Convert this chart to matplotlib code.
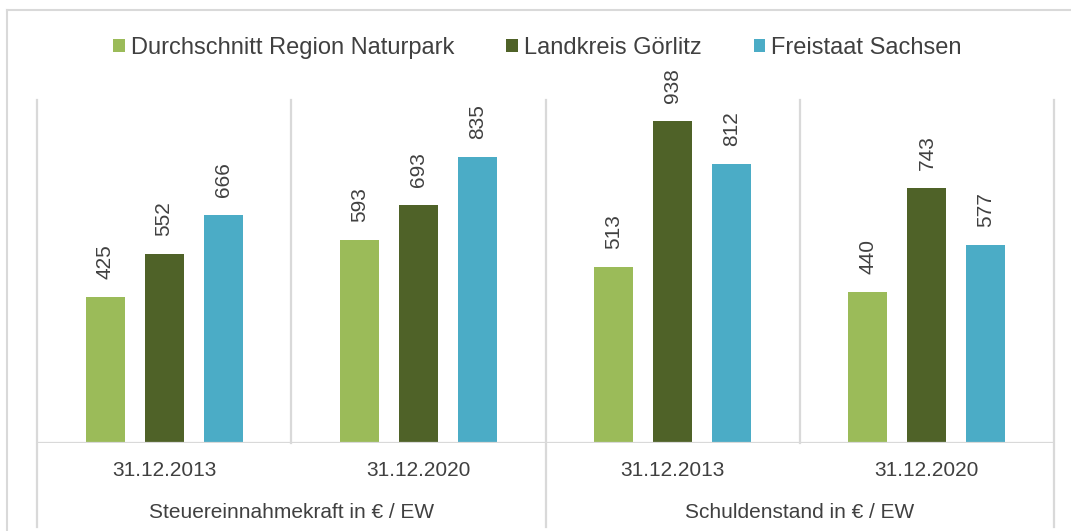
import matplotlib
matplotlib.use("Agg")
import matplotlib.pyplot as plt
from matplotlib.patches import Patch
from matplotlib.lines import Line2D
import numpy as np

plt.rcParams['font.family'] = ['Liberation Sans', 'DejaVu Sans']

series_names = ["Durchschnitt Region Naturpark", "Landkreis Görlitz", "Freistaat Sachsen"]
dates = ["31.12.2013", "31.12.2020", "31.12.2013", "31.12.2020"]
groups = ["Steuereinnahmekraft in € / EW", "Schuldenstand in € / EW"]
region = [425, 593, 513, 440]
landkreis = [552, 693, 938, 743]
sachsen = [666, 835, 812, 577]
colors = ["#9BBB59", "#4F6228", "#4BACC6"]
text_color = "#404040"
grid_color = "#D9D9D9"

W, H = 1071, 531
fig = plt.figure(figsize=(W / 100, H / 100), dpi=100)
ax_left, ax_right, ax_bottom, ax_top = 37, 1054, 443, 100
ax = fig.add_axes([ax_left / W, 1 - ax_bottom / H, (ax_right - ax_left) / W, (ax_bottom - ax_top) / H])

x = np.arange(len(dates))
bw = 0.154
off = 0.232
for i, (vals, c) in enumerate(zip([region, landkreis, sachsen], colors)):
    bars = ax.bar(x + (i - 1) * off, vals, width=bw, color=c, zorder=3)
    for b, v in zip(bars, vals):
        ax.annotate(str(v), (b.get_x() + b.get_width() / 2, v), xytext=(0, 13),
                    textcoords="offset points", rotation=90, ha="center", va="bottom",
                    fontsize=15, color=text_color)

ax.set_xlim(-0.5, len(dates) - 0.5)
ax.set_ylim(0, 1000)
for s in ax.spines.values():
    s.set_visible(False)
ax.set_xticks([])
ax.set_yticks([])

# separators
ext = -(527 - ax_bottom) / (ax_bottom - ax_top)
for xv in np.arange(-0.5, len(dates), 1.0):
    long_line = xv in (-0.5, 1.5, 3.5)
    ax.plot([xv, xv], [ext if long_line else 0, 1], transform=ax.get_xaxis_transform(),
            color=grid_color, lw=1.6, clip_on=False, zorder=1)
ax.axhline(0, color=grid_color, lw=1.6, zorder=4)

# date labels
y_date = -(470 - ax_bottom) / (ax_bottom - ax_top)
y_grp = -(512 - ax_bottom) / (ax_bottom - ax_top)
for xi, d in zip(x, dates):
    ax.text(xi, y_date, d, transform=ax.get_xaxis_transform(), ha="center", va="center",
            fontsize=15, color=text_color)
for gi, g in enumerate(groups):
    ax.text(0.5 + 2 * gi, y_grp, g, transform=ax.get_xaxis_transform(), ha="center", va="center",
            fontsize=15, color=text_color)

# outer frame
fig.add_artist(Line2D([7 / W, 7 / W], [0, 1 - 10 / H], color=grid_color, lw=1.5))
fig.add_artist(Line2D([7 / W, 1], [1 - 10 / H, 1 - 10 / H], color=grid_color, lw=1.5))

handles = [Patch(facecolor=c, edgecolor="none") for c in colors]
fig.legend(handles, series_names, loc="center", bbox_to_anchor=(0.502, 1 - 48 / H), ncol=3,
           frameon=False, fontsize=17, handlelength=0.5, handleheight=0.5,
           handletextpad=0.25, columnspacing=2.2, labelcolor=text_color)

fig.savefig("out.png", dpi=100)
